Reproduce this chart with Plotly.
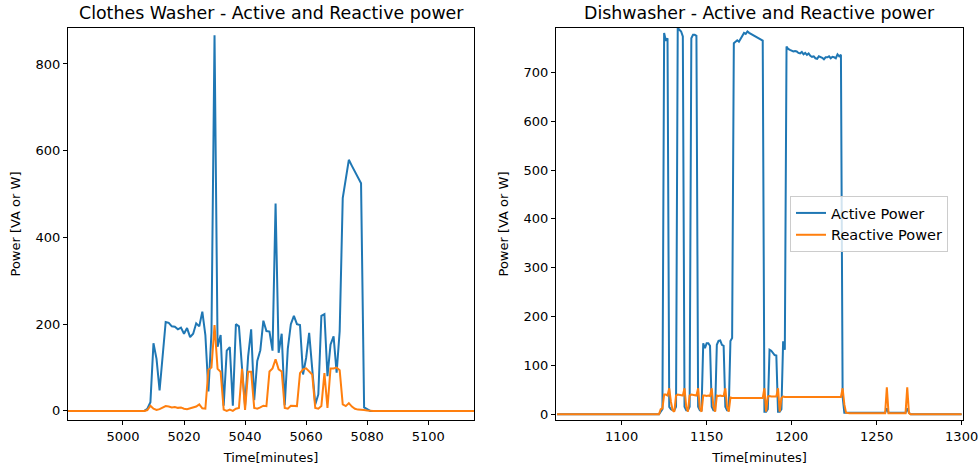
import plotly.graph_objects as go

# ---------------- Clothes washer (left) ----------------
cw_start, cw_end = 4982, 5115
cw_on_start = 5008
cw_active_on = [
    5, 20, 156, 120, 47, 125, 205, 203, 195, 194, 188, 192, 178, 191, 170, 178,
    202, 195, 229, 175, 45, 180, 866, 148, 175, 12, 139, 147, 12, 200, 195, 100,
    12, 125, 188, 25, 115, 140, 208, 184, 183, 139, 478, 134, 178, 13, 143, 200,
    219, 200, 198, 84, 122, 180, 92, 15, 38, 219, 223, 80, 153, 172, 88, 184,
    491, 540, 579, 565, 552, 538, 525, 8, 4,
]  # 5008 .. 5080
cw_reactive_on = [
    2, 12, 5, 2, 4, 8, 11, 10, 8, 9, 7, 8, 5, 4, 6, 9,
    10, 15, 6, 5, 95, 100, 198, 97, 90, 3, 0, 3, 0, 5, 7, 97,
    2, 90, 90, 7, 5, 8, 12, 11, 91, 98, 119, 96, 91, 7, 5, 12,
    11, 11, 87, 96, 98, 91, 84, 7, 5, 11, 87, 7, 98, 98, 100, 94,
    15, 11, 18, 10, 5, 3, 3, 2, 1,
]  # 5008 .. 5080

# ---------------- Dishwasher (right) ----------------
dw_start, dw_end = 1062, 1300
dw_on_start = 1123
dw_active_on = [
    5, 10, 781, 765, 770, 15, 10, 8, 8, 15,          # 1123-1132
    791, 788, 784, 774, 15, 8, 8, 15, 770, 777,      # 1133-1142
    777, 775, 15, 8, 8, 145, 135, 145, 145, 140,     # 1143-1152
    15, 8, 8, 142, 150, 151, 142, 140, 15, 8,        # 1153-1162
    8, 150, 156, 760, 764, 766, 763, 770, 777, 781,  # 1163-1172
    779, 784, 781, 779, 777, 774, 772, 770, 768, 767,  # 1173-1182
    765, 5, 5, 10, 132, 130, 125, 121, 120, 5,       # 1183-1192
    5, 10, 149, 132, 753, 748, 746, 745, 743, 744,   # 1193-1202
    743, 740, 739, 742, 737, 740, 736, 739, 734, 732,  # 1203-1212
    733, 729, 728, 733, 732, 730, 727, 731, 731, 733,  # 1213-1222
    729, 732, 731, 729, 737, 733, 736, 36, 3, 3,     # 1223-1232
]
dw_reactive_on = [
    10, 12, 40, 40, 38, 53, 25, 8, 5, 38,            # 1123-1132
    40, 39, 38, 38, 53, 15, 5, 38, 40, 39,           # 1133-1142
    38, 38, 53, 12, 5, 38, 38, 37, 38, 37,           # 1143-1152
    53, 15, 5, 38, 37, 38, 37, 37, 53, 15,           # 1153-1162
    5, 34, 33, 33, 33, 32, 33, 33, 32, 33,           # 1163-1172
    32, 33, 32, 32, 33, 32, 33, 33, 32, 33,          # 1173-1182
    33, 53, 5, 36, 37, 36, 36, 36, 36, 53,           # 1183-1192
    5, 33, 36, 35, 35, 35, 35, 35, 35, 35,           # 1193-1202
    35, 34, 35, 35, 34, 35, 35, 34, 35, 35,          # 1203-1212
    34, 35, 34, 35, 35, 35, 34, 35, 35, 35,          # 1213-1222
    34, 35, 35, 35, 35, 35, 35, 53, 20, 3,           # 1223-1232
]
dw_tail_end = 1269          # standby level lasts until here
dw_tail_active_level = 3
dw_tail_reactive_level = 2
dw_tail_spike_times = [1256, 1268]
dw_tail_spike_active = [12, 12]
dw_tail_spike_reactive = [55, 55]


def build(start, end, on_start, on_values, tail_level=0, tail_end=None, spikes=None):
    times = list(range(start, end + 1))
    vals = []
    on_end = on_start + len(on_values) - 1
    for t in times:
        if on_start <= t <= on_end:
            vals.append(on_values[t - on_start])
        elif tail_end is not None and on_end < t <= tail_end:
            vals.append(tail_level)
        else:
            vals.append(0)
    if spikes:
        for t, v in spikes.items():
            vals[t - start] = v
    return times, vals


cw_time, cw_active = build(cw_start, cw_end, cw_on_start, cw_active_on)
_, cw_reactive = build(cw_start, cw_end, cw_on_start, cw_reactive_on)
dw_time, dw_active = build(dw_start, dw_end, dw_on_start, dw_active_on, dw_tail_active_level, dw_tail_end,
                           dict(zip(dw_tail_spike_times, dw_tail_spike_active)))
_, dw_reactive = build(dw_start, dw_end, dw_on_start, dw_reactive_on, dw_tail_reactive_level, dw_tail_end,
                       dict(zip(dw_tail_spike_times, dw_tail_spike_reactive)))

BLUE = "#1f77b4"
ORANGE = "#ff7f0e"
FONT = "DejaVu Sans"

fig = go.Figure()
fig.add_trace(go.Scatter(x=cw_time, y=cw_active, mode="lines", line=dict(color=BLUE, width=2),
                         name="Active Power", showlegend=False, xaxis="x", yaxis="y"))
fig.add_trace(go.Scatter(x=cw_time, y=cw_reactive, mode="lines", line=dict(color=ORANGE, width=2),
                         name="Reactive Power", showlegend=False, xaxis="x", yaxis="y"))
fig.add_trace(go.Scatter(x=dw_time, y=dw_active, mode="lines", line=dict(color=BLUE, width=2),
                         name="Active Power", xaxis="x2", yaxis="y2"))
fig.add_trace(go.Scatter(x=dw_time, y=dw_reactive, mode="lines", line=dict(color=ORANGE, width=2),
                         name="Reactive Power", xaxis="x2", yaxis="y2"))

W, H = 980, 471
ydom = [1 - 420 / H, 1 - 28 / H]
axis_common = dict(showline=True, linecolor="black", linewidth=1, mirror=True, ticks="outside",
                   ticklen=4, tickcolor="black", showgrid=False, zeroline=False, automargin=False,
                   tickfont=dict(family=FONT, size=13, color="black"))

fig.update_layout(
    width=W, height=H, margin=dict(l=0, r=0, t=0, b=0, autoexpand=False),
    paper_bgcolor="white", plot_bgcolor="white",
    font=dict(family=FONT, size=13, color="black"),
    xaxis=dict(domain=[68 / W, 474 / W], range=[4982, 5115], tickvals=[5000, 5020, 5040, 5060, 5080, 5100],
               title=dict(text="Time[minutes]", font=dict(family=FONT, size=13), standoff=10),
               anchor="y", **axis_common),
    yaxis=dict(domain=ydom, range=[-21, 883], tickvals=[0, 200, 400, 600, 800],
               title=dict(text="Power [VA or W]", font=dict(family=FONT, size=13), standoff=12),
               anchor="x", **axis_common),
    xaxis2=dict(domain=[556 / W, 963 / W], range=[1061.4, 1300.8], tickvals=[1100, 1150, 1200, 1250, 1300],
                title=dict(text="Time[minutes]", font=dict(family=FONT, size=13), standoff=10),
                anchor="y2", **axis_common),
    yaxis2=dict(domain=ydom, range=[-12, 791], tickvals=[0, 100, 200, 300, 400, 500, 600, 700],
                title=dict(text="Power [VA or W]", font=dict(family=FONT, size=13), standoff=12),
                anchor="x2", **axis_common),
    legend=dict(x=790 / W, y=1 - 196 / H, xanchor="left", yanchor="top", itemwidth=30,
                bgcolor="rgba(255,255,255,0.8)", bordercolor="#cccccc", borderwidth=1,
                font=dict(family=FONT, size=14.5), tracegroupgap=0),
    annotations=[
        dict(text="Clothes Washer - Active and Reactive power", x=(68 + 474) / 2 / W, y=1 - 13 / H,
             xref="paper", yref="paper", showarrow=False, xanchor="center", yanchor="middle",
             font=dict(family=FONT, size=17.4, color="black")),
        dict(text="Dishwasher - Active and Reactive power", x=(556 + 963) / 2 / W, y=1 - 13 / H,
             xref="paper", yref="paper", showarrow=False, xanchor="center", yanchor="middle",
             font=dict(family=FONT, size=17.4, color="black")),
    ],
)

fig.write_html(
    "out.html",
    post_script=("document.body.style.margin='0';document.body.style.overflow='hidden';"
                 "document.documentElement.style.overflow='hidden';"),
)
